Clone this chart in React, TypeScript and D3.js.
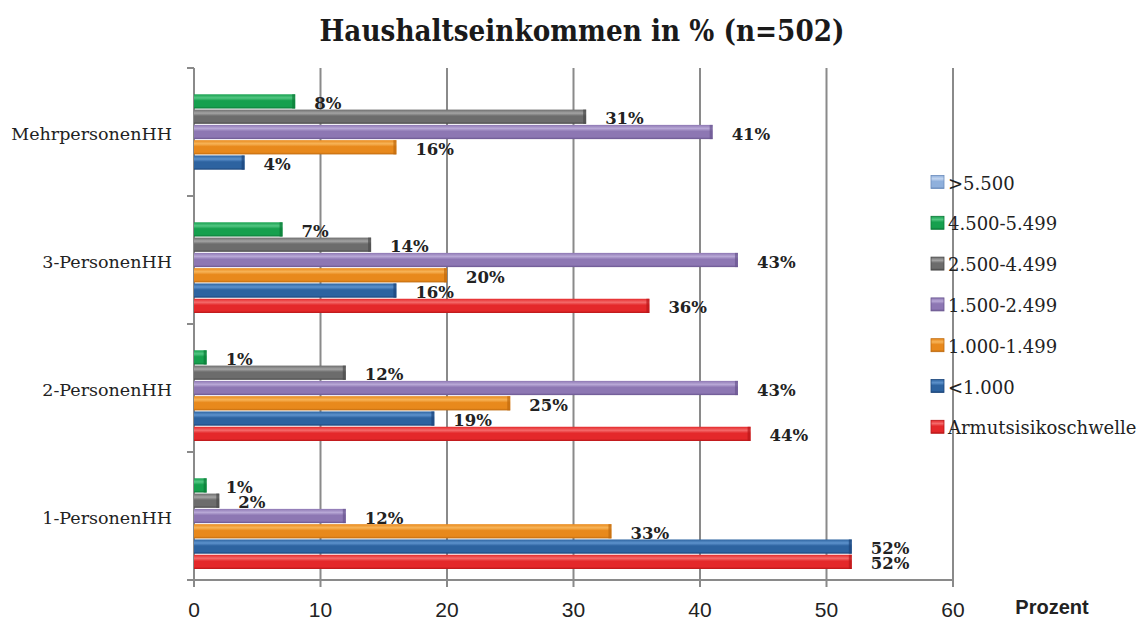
import React from "react";
import * as d3 from "d3";

const categories = ["1-PersonenHH", "2-PersonenHH", "3-PersonenHH", "MehrpersonenHH"];
const seriesNames = [">5.500", "4.500-5.499", "2.500-4.499", "1.500-2.499", "1.000-1.499", "<1.000", "Armutsisikoschwelle"];
const valsGt5500: (number | null)[] = [null, null, null, null];
const vals4500: (number | null)[] = [1, 1, 7, 8];
const vals2500: (number | null)[] = [2, 12, 14, 31];
const vals1500: (number | null)[] = [12, 43, 43, 41];
const vals1000: (number | null)[] = [33, 25, 20, 16];
const valsLt1000: (number | null)[] = [52, 19, 16, 4];
const valsArmut: (number | null)[] = [52, 44, 36, null];
const xTicks = [0, 10, 20, 30, 40, 50, 60];

const seriesValues = [valsGt5500, vals4500, vals2500, vals1500, vals1000, valsLt1000, valsArmut];
const palette = [
  { base: "#8fb0dc", light: "#c4d6f0", dark: "#6a8cbc" },
  { base: "#16a04e", light: "#52c682", dark: "#0c7a38" },
  { base: "#6c6c6c", light: "#a4a4a4", dark: "#4a4a4a" },
  { base: "#8d77b3", light: "#b8a8d6", dark: "#6a5690" },
  { base: "#e8891c", light: "#f7b458", dark: "#bf6a0e" },
  { base: "#2d63a0", light: "#5d92cc", dark: "#1b457a" },
  { base: "#e4282a", light: "#f46a6a", dark: "#b81618" },
];

export default function App() {
  const W = 1138, H = 621;
  const x = d3.scaleLinear().domain([0, 60]).range([194, 953]);
  const yOuter = d3.scaleBand<string>().domain([...categories].reverse()).range([68, 580]).padding(0);
  const yInner = d3.scaleBand<string>().domain(seriesNames).range([0, yOuter.bandwidth()]).paddingInner(0.07).paddingOuter(0.72);
  const gridColor = "#8a8a8a";
  const serif = "'DejaVu Serif', serif";
  const sans = "'Liberation Sans', Arial, sans-serif";
  const bh = yInner.bandwidth();

  return (
    <svg width={W} height={H} style={{ position: "absolute", left: 0, top: 0, background: "#fff" }}>
      <defs>
        {palette.map((p, i) => (
          <linearGradient key={i} id={`g${i}`} x1="0" y1="0" x2="0" y2="1">
            <stop offset="0%" stopColor={p.base} />
            <stop offset="25%" stopColor={p.light} />
            <stop offset="45%" stopColor={p.base} />
            <stop offset="85%" stopColor={p.base} />
            <stop offset="100%" stopColor={p.dark} />
          </linearGradient>
        ))}
      </defs>
      <text x={582} y={41} textAnchor="middle" fontFamily={serif} fontWeight="bold" fontSize={30} textLength={525} lengthAdjust="spacingAndGlyphs" fill="#1a1a1a">
        Haushaltseinkommen in % (n=502)
      </text>

      {/* gridlines */}
      {xTicks.map((t) => (
        <line key={t} x1={x(t)} x2={x(t)} y1={68} y2={587} stroke={gridColor} strokeWidth={2} />
      ))}
      {/* bottom axis */}
      <line x1={188} x2={953} y1={580} y2={580} stroke={gridColor} strokeWidth={2} />
      {/* category ticks */}
      {[68, ...categories.map((c) => (yOuter(c) as number) + yOuter.bandwidth())].map((yy, i) => (
        <line key={i} x1={187} x2={194} y1={yy} y2={yy} stroke={gridColor} strokeWidth={2} />
      ))}

      {/* bars */}
      {categories.map((c, ci) =>
        seriesNames.map((s, si) => {
          const v = seriesValues[si][ci];
          if (v == null) return null;
          const y0 = (yOuter(c) as number) + (yInner(s) as number);
          const x1 = x(v);
          return (
            <g key={`${c}-${s}`}>
              <rect x={x(0)} y={y0} width={x1 - x(0)} height={bh} fill={`url(#g${si})`} />
              <rect x={x1 - 3} y={y0} width={3} height={bh} fill={palette[si].dark} opacity={0.7} />
            </g>
          );
        })
      )}
      {/* value labels */}
      {categories.map((c, ci) =>
        seriesNames.map((s, si) => {
          const v = seriesValues[si][ci];
          if (v == null) return null;
          const y0 = (yOuter(c) as number) + (yInner(s) as number);
          return (
            <text key={`l-${c}-${s}`} x={x(v) + 19} y={y0 + bh / 2 + 2} dominantBaseline="central" fontFamily={serif} fontWeight="bold" fontSize={16.5} fill="#222">
              {`${v}%`}
            </text>
          );
        })
      )}

      {/* category labels */}
      {categories.map((c) => (
        <text key={c} x={172} y={(yOuter(c) as number) + yOuter.bandwidth() / 2 + 2} textAnchor="end" dominantBaseline="central" fontFamily={serif} fontSize={17.5} fill="#222">
          {c}
        </text>
      ))}

      {/* x tick labels */}
      {xTicks.map((t) => (
        <text key={t} x={x(t)} y={609} textAnchor="middle" dominantBaseline="central" fontFamily={sans} fontSize={21} fill="#222">
          {t}
        </text>
      ))}
      <text x={1052} y={607} textAnchor="middle" dominantBaseline="central" fontFamily={sans} fontWeight="bold" fontSize={20} fill="#222">
        Prozent
      </text>

      {/* legend */}
      {seriesNames.map((s, i) => {
        const ly = 182 + i * 40.8;
        return (
          <g key={s}>
            <rect x={931} y={ly - 6.5} width={13} height={13} fill={`url(#g${i})`} stroke={palette[i].dark} strokeWidth={0.8} />
            <text x={948} y={ly + 1} dominantBaseline="central" fontFamily={serif} fontSize={18} fill="#222">
              {s}
            </text>
          </g>
        );
      })}
    </svg>
  );
}
